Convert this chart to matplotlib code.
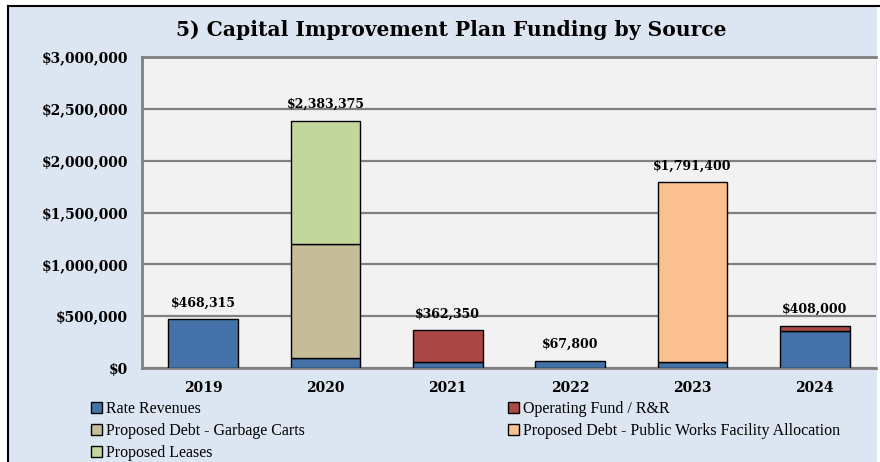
import matplotlib
matplotlib.use("Agg")
import matplotlib.pyplot as plt
from matplotlib.patches import Rectangle
from matplotlib.lines import Line2D
from matplotlib.ticker import FuncFormatter
import numpy as np

years = ["2019", "2020", "2021", "2022", "2023", "2024"]
rate_revenues = [468315, 100000, 60000, 67800, 60000, 360000]
operating_fund = [0, 0, 302350, 0, 0, 48000]
debt_garbage_carts = [0, 1100000, 0, 0, 0, 0]
debt_pw_facility = [0, 0, 0, 0, 1731400, 0]
proposed_leases = [0, 1183375, 0, 0, 0, 0]
totals = [468315, 2383375, 362350, 67800, 1791400, 408000]

series = [
    ("Rate Revenues", rate_revenues, "#4472A8"),
    ("Operating Fund / R&R", operating_fund, "#AA4643"),
    ("Proposed Debt - Garbage Carts", debt_garbage_carts, "#C4BD97"),
    ("Proposed Debt - Public Works Facility Allocation", debt_pw_facility, "#FAC090"),
    ("Proposed Leases", proposed_leases, "#C3D69B"),
]

W, H = 880, 462
fig = plt.figure(figsize=(W / 100, H / 100), dpi=100)
fig.patch.set_facecolor("white")

# chart frame
fig.patches.append(Rectangle((8 / W, 0), (877 - 8) / W, 1 - 6 / H, transform=fig.transFigure,
                             facecolor="#DCE6F2", edgecolor="none", zorder=-10))
fig.add_artist(Line2D([8 / W, 8 / W], [0, 1 - 6 / H], transform=fig.transFigure,
                      color="black", lw=1.5, zorder=-5))
fig.add_artist(Line2D([8 / W, 1], [1 - 6 / H, 1 - 6 / H], transform=fig.transFigure,
                      color="black", lw=1.5, zorder=-5))

ax = fig.add_axes([142 / W, 1 - 368 / H, (876 - 142) / W, (368 - 57) / H])
ax.set_zorder(1)
ax.set_facecolor("#F2F2F2")

x = np.arange(len(years))
bottom = np.zeros(len(years))
handles = {}
for name, vals, col in series:
    vals = np.array(vals, dtype=float)
    mask = vals > 0
    b = ax.bar(x[mask], vals[mask], 0.57, bottom=bottom[mask], color=col,
               edgecolor="black", linewidth=1, zorder=3, label=name)
    handles[name] = b
    bottom += vals

for xi, t in zip(x, totals):
    ax.annotate(f"${t:,.0f}", (xi, t), xytext=(0, 7), textcoords="offset points",
                ha="center", va="bottom", fontsize=9, fontweight="bold", family="DejaVu Serif")

ax.set_xlim(-0.5, len(years) - 0.5)
ax.set_ylim(0, 3000000)
ax.set_yticks(np.arange(0, 3000001, 500000))
ax.yaxis.set_major_formatter(FuncFormatter(lambda v, p: f"${v:,.0f}"))
ax.set_xticks(x)
ax.set_xticklabels(years)
ax.grid(axis="y", color="#808080", lw=1.6, zorder=1)
ax.tick_params(length=0)
for lbl in ax.get_xticklabels() + ax.get_yticklabels():
    lbl.set_fontsize(10)
    lbl.set_fontweight("bold")
    lbl.set_family("DejaVu Serif")
ax.tick_params(axis="y", pad=10)
ax.tick_params(axis="x", pad=9)
for s in ["left", "bottom", "top"]:
    ax.spines[s].set_color("#808080")
    ax.spines[s].set_linewidth(2)
ax.spines["right"].set_visible(False)

fig.text(451 / W, 1 - 30 / H, "5) Capital Improvement Plan Funding by Source",
         ha="center", va="center", fontsize=14.6, fontweight="bold", family="DejaVu Serif")

order = ["Rate Revenues", "Proposed Debt - Garbage Carts", "Proposed Leases",
         "Operating Fund / R&R", "Proposed Debt - Public Works Facility Allocation"]
leg = fig.legend([handles[n] for n in order], order, ncol=2, loc="upper left",
                 bbox_to_anchor=(91 / W, 1 - 401 / H), frameon=False,
                 prop={"family": "Liberation Serif", "size": 11.5},
                 handlelength=0.7, handleheight=0.7, handletextpad=0.25,
                 columnspacing=12.7, labelspacing=0.38, borderaxespad=0, borderpad=0)

fig.savefig("out.png", dpi=100, facecolor=fig.get_facecolor())
